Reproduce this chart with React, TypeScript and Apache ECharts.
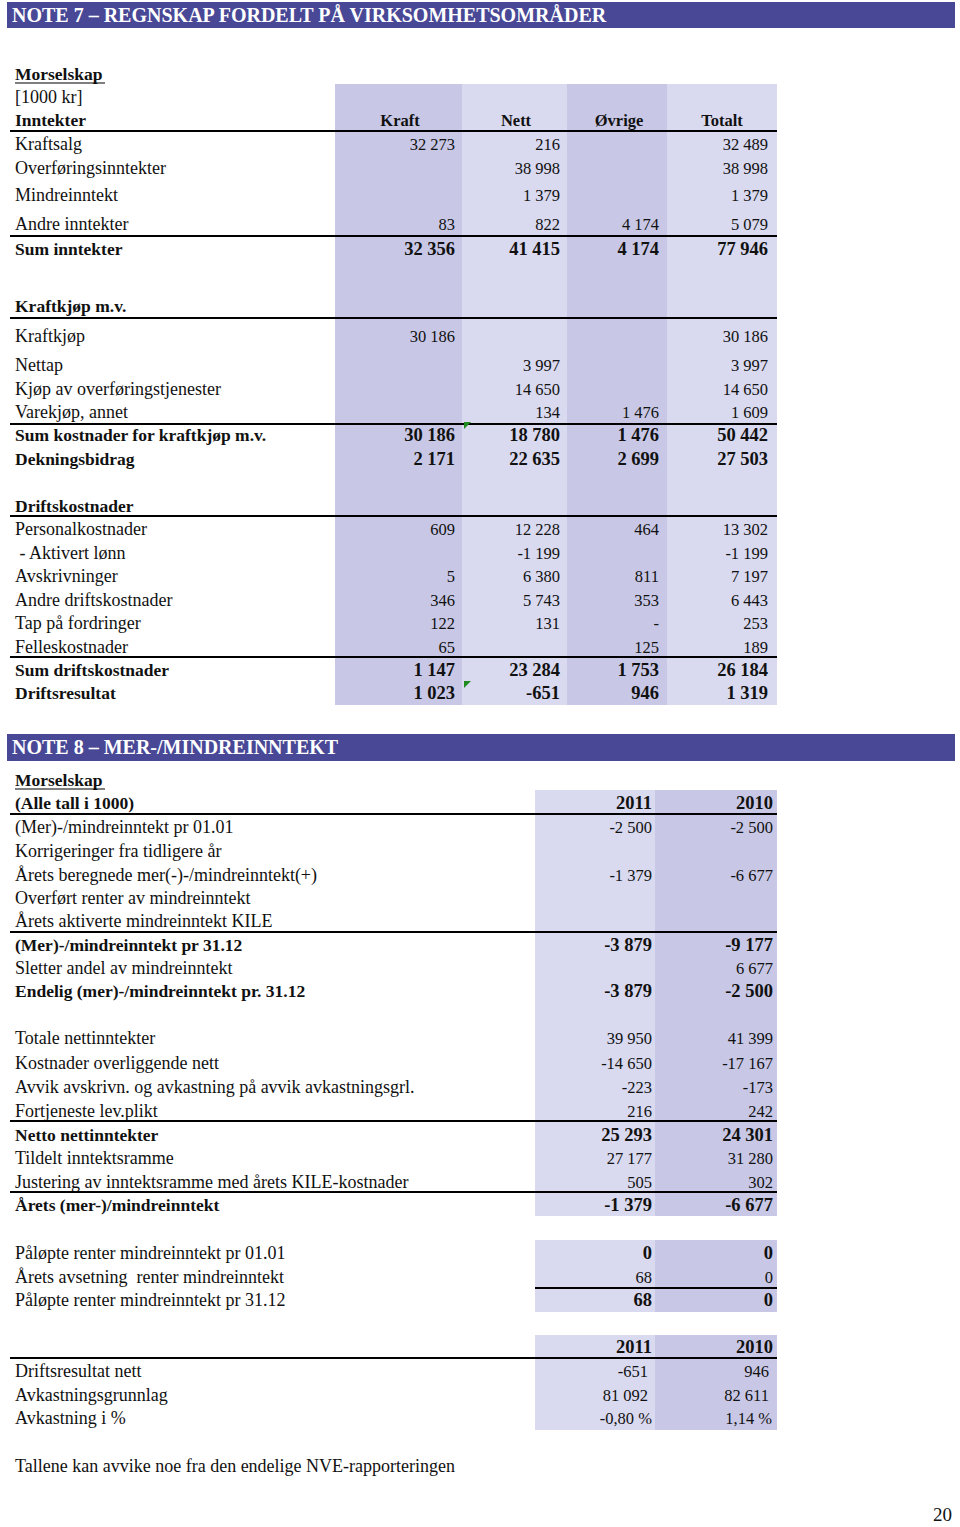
import React, { useEffect, useRef } from "react";
import * as echarts from "echarts";

const FONT = "'Liberation Serif', 'Times New Roman', Times, serif";

// ---------------- NOTE 7 data ----------------
const n7Title = "NOTE 7 – REGNSKAP FORDELT PÅ VIRKSOMHETSOMRÅDER";
const n7Company = "Morselskap";
const n7Unit = "[1000 kr]";
const n7Heading = "Inntekter";
const n7Columns = ["Kraft", "Nett", "Øvrige", "Totalt"];
const n7Labels = [
  "Kraftsalg",
  "Overføringsinntekter",
  "Mindreinntekt",
  "Andre inntekter",
  "Sum inntekter",
  "Kraftkjøp m.v.",
  "Kraftkjøp",
  "Nettap",
  "Kjøp av overføringstjenester",
  "Varekjøp, annet",
  "Sum kostnader for kraftkjøp m.v.",
  "Dekningsbidrag",
  "Driftskostnader",
  "Personalkostnader",
  " - Aktivert lønn",
  "Avskrivninger",
  "Andre driftskostnader",
  "Tap på fordringer",
  "Felleskostnader",
  "Sum driftskostnader",
  "Driftsresultat",
];
const n7Kraft = [32273, null, null, 83, 32356, null, 30186, null, null, null, 30186, 2171, null, 609, null, 5, 346, 122, 65, 1147, 1023];
const n7Nett = [216, 38998, 1379, 822, 41415, null, null, 3997, 14650, 134, 18780, 22635, null, 12228, -1199, 6380, 5743, 131, null, 23284, -651];
const n7Ovrige = [null, null, null, 4174, 4174, null, null, null, null, 1476, 1476, 2699, null, 464, null, 811, 353, 0, 125, 1753, 946];
const n7Totalt = [32489, 38998, 1379, 5079, 77946, null, 30186, 3997, 14650, 1609, 50442, 27503, null, 13302, -1199, 7197, 6443, 253, 189, 26184, 1319];

// ---------------- NOTE 8 data ----------------
const n8Title = "NOTE 8 – MER-/MINDREINNTEKT";
const n8Company = "Morselskap";
const n8Unit = "(Alle tall i 1000)";
const n8Years = ["2011", "2010"];
const n8aLabels = [
  "(Mer)-/mindreinntekt pr 01.01",
  "Korrigeringer fra tidligere år",
  "Årets beregnede mer(-)-/mindreinntekt(+)",
  "Overført renter av mindreinntekt",
  "Årets aktiverte mindreinntekt KILE",
  "(Mer)-/mindreinntekt pr 31.12",
  "Sletter andel av mindreinntekt",
  "Endelig (mer)-/mindreinntekt pr. 31.12",
];
const n8a2011 = [-2500, null, -1379, null, null, -3879, null, -3879];
const n8a2010 = [-2500, null, -6677, null, null, -9177, 6677, -2500];

const n8bLabels = [
  "Totale nettinntekter",
  "Kostnader overliggende nett",
  "Avvik avskrivn. og avkastning på avvik avkastningsgrl.",
  "Fortjeneste lev.plikt",
  "Netto nettinntekter",
  "Tildelt inntektsramme",
  "Justering av inntektsramme med årets KILE-kostnader",
  "Årets (mer-)/mindreinntekt",
];
const n8b2011 = [39950, -14650, -223, 216, 25293, 27177, 505, -1379];
const n8b2010 = [41399, -17167, -173, 242, 24301, 31280, 302, -6677];

const n8cLabels = [
  "Påløpte renter mindreinntekt pr 01.01",
  "Årets avsetning  renter mindreinntekt",
  "Påløpte renter mindreinntekt pr 31.12",
];
const n8c2011 = [0, 68, 68];
const n8c2010 = [0, 0, 0];

const n8dLabels = ["Driftsresultat nett", "Avkastningsgrunnlag", "Avkastning i %"];
const n8d2011 = [-651, 81092];
const n8d2010 = [946, 82611];
const n8dPct2011 = -0.8;
const n8dPct2010 = 1.14;

const footnote = "Tallene kan avvike noe fra den endelige NVE-rapporteringen";
const pageNumber = "20";

// ---------------- layout (positions / styles) ----------------
const n7RowY = [144, 168, 195, 224, 249, 306, 336, 365, 389, 412, 435, 459, 506, 529, 553, 576, 600, 623, 647, 670, 693];
const n7RowBold = [0, 0, 0, 0, 1, 1, 0, 0, 0, 0, 1, 1, 1, 0, 0, 0, 0, 0, 0, 1, 1];
const n7ColX = [335, 462, 567, 667, 777];
const n7ColShade = ["#c8c8e6", "#d9d9ef", "#c8c8e6", "#d9d9ef"];
const n7NumRight = [455, 560, 659, 768];
const n7HeadCenter = [400, 516, 619, 722];
const n7Lines = [131, 236, 318, 424, 516, 657];

const n8aY = [827, 851, 875, 898, 921, 945, 968, 991];
const n8aBold = [0, 0, 0, 0, 0, 1, 0, 1];
const n8bY = [1038, 1063, 1087, 1111, 1135, 1158, 1182, 1205];
const n8bBold = [0, 0, 0, 0, 1, 0, 0, 1];
const n8cY = [1253, 1277, 1300];
const n8cValBold = [1, 0, 1];
const n8dY = [1371, 1395, 1418];
const n8ColX = [535, 655, 777];
const n8ColShade = ["#d9d9ef", "#c8c8e6"];
const n8NumRight = [652, 773];
const n8Bands = [[790, 1216], [1240, 1312], [1335, 1430]];

const BAR = "#484896";
const INK = "#111111";

function fmt(v: number | null, dashZero: boolean): string {
  if (v === null || v === undefined) return "";
  if (v === 0 && dashZero) return "-";
  const s = Math.abs(v).toString().replace(/\B(?=(\d{3})+(?!\d))/g, " ");
  return (v < 0 ? "-" : "") + s;
}
function pct(v: number): string {
  return v.toFixed(2).replace(".", ",") + " %";
}

function txt(x: number, y: number, text: string, opts: any = {}) {
  const align = opts.align || "left";
  return {
    type: "text",
    x,
    y,
    silent: true,
    style: {
      text,
      fill: opts.fill || INK,
      fontFamily: FONT,
      fontSize: opts.size || 18,
      fontWeight: opts.bold ? "bold" : "normal",
      align,
      textAlign: align,
      verticalAlign: "middle",
      textVerticalAlign: "middle",
    },
  };
}
function rect(x: number, y: number, w: number, h: number, fill: string) {
  return { type: "rect", silent: true, shape: { x, y, width: w, height: h }, style: { fill } };
}
function hline(x1: number, x2: number, y: number, w = 2) {
  return { type: "line", silent: true, shape: { x1, y1: y, x2, y2: y }, style: { stroke: "#000", lineWidth: w } };
}

const FS_LABEL = 18;
const FS_BLABEL = 17.5;
const FS_NUM = 16.5;
const FS_BNUM = 18.5;

function buildElements() {
  const els: any[] = [];
  // ---- Note 7 ----
  els.push(rect(7, 2, 948, 26, BAR));
  els.push(txt(12, 15, n7Title, { bold: true, size: 20, fill: "#ffffff" }));
  for (let c = 0; c < 4; c++) {
    els.push(rect(n7ColX[c], 84, n7ColX[c + 1] - n7ColX[c], 621, n7ColShade[c]));
  }
  els.push(txt(15, 74, n7Company, { bold: true, size: FS_BLABEL }));
  els.push(hline(15, 105, 83, 1.2));
  els.push(txt(15, 97, n7Unit, { size: FS_LABEL }));
  els.push(txt(15, 120, n7Heading, { bold: true, size: FS_BLABEL }));
  n7Columns.forEach((c, i) => els.push(txt(n7HeadCenter[i], 120, c, { bold: true, size: 16.5, align: "center" })));
  const cols = [n7Kraft, n7Nett, n7Ovrige, n7Totalt];
  n7Labels.forEach((lab, r) => {
    const b = !!n7RowBold[r];
    const y = n7RowY[r];
    els.push(txt(15, y, lab, { bold: b, size: b ? FS_BLABEL : FS_LABEL }));
    cols.forEach((arr, c) => {
      const s = fmt(arr[r] as any, true);
      if (s) els.push(txt(n7NumRight[c], y, s, { bold: b, size: b ? FS_BNUM : FS_NUM, align: "right" }));
    });
  });
  n7Lines.forEach((y) => els.push(hline(10, 777, y)));
  els.push({ type: "polygon", silent: true, shape: { points: [[464, 422], [471, 422], [464, 429]] }, style: { fill: "#1f8a1f" } });
  els.push({ type: "polygon", silent: true, shape: { points: [[464, 681], [471, 681], [464, 688]] }, style: { fill: "#1f8a1f" } });

  // ---- Note 8 ----
  els.push(rect(7, 734, 948, 27, BAR));
  els.push(txt(12, 747, n8Title, { bold: true, size: 20, fill: "#ffffff" }));
  n8Bands.forEach(([y0, y1]) => {
    for (let c = 0; c < 2; c++) els.push(rect(n8ColX[c], y0, n8ColX[c + 1] - n8ColX[c], y1 - y0, n8ColShade[c]));
  });
  els.push(txt(15, 780, n8Company, { bold: true, size: FS_BLABEL }));
  els.push(hline(15, 105, 789, 1.2));
  els.push(txt(15, 803, n8Unit, { bold: true, size: FS_BLABEL }));
  n8Years.forEach((yr, i) => els.push(txt(n8NumRight[i], 803, yr, { bold: true, size: FS_BNUM, align: "right" })));

  const addRows = (labels: string[], ys: number[], v1: any[], v2: any[], labBold: number[] | null, valBold: number[] | null) => {
    labels.forEach((lab, r) => {
      const lb = labBold ? !!labBold[r] : false;
      const vb = valBold ? !!valBold[r] : lb;
      els.push(txt(15, ys[r], lab, { bold: lb, size: lb ? FS_BLABEL : FS_LABEL }));
      [v1, v2].forEach((arr, c) => {
        const s = fmt(arr[r] ?? null, false);
        if (s) els.push(txt(n8NumRight[c], ys[r], s, { bold: vb, size: vb ? FS_BNUM : FS_NUM, align: "right" }));
      });
    });
  };
  addRows(n8aLabels, n8aY, n8a2011, n8a2010, n8aBold, null);
  addRows(n8bLabels, n8bY, n8b2011, n8b2010, n8bBold, null);
  addRows(n8cLabels, n8cY, n8c2011, n8c2010, null, n8cValBold);

  n8Years.forEach((yr, i) => els.push(txt(n8NumRight[i], 1347, yr, { bold: true, size: FS_BNUM, align: "right" })));
  n8dLabels.forEach((lab, r) => els.push(txt(15, n8dY[r], lab, { size: FS_LABEL })));
  [n8d2011, n8d2010].forEach((arr, c) => {
    arr.forEach((v, r) => els.push(txt(n8NumRight[c] - 4, n8dY[r], fmt(v, false), { size: FS_NUM, align: "right" })));
  });
  els.push(txt(n8NumRight[0], n8dY[2], pct(n8dPct2011), { size: FS_NUM, align: "right" }));
  els.push(txt(n8NumRight[1] - 1, n8dY[2], pct(n8dPct2010), { size: FS_NUM, align: "right" }));

  [814, 932, 1121, 1192, 1358].forEach((y) => els.push(hline(10, 777, y)));
  els.push(hline(535, 777, 1288));

  els.push(txt(15, 1466, footnote, { size: FS_LABEL }));
  els.push(txt(952, 1514, pageNumber, { size: 19, align: "right" }));
  return els;
}

export default function App() {
  const ref = useRef<HTMLDivElement>(null);
  useEffect(() => {
    document.body.style.margin = "0";
    const chart = echarts.init(ref.current!, null, { renderer: "svg" });
    chart.setOption({
      animation: false,
      backgroundColor: "#ffffff",
      graphic: { elements: buildElements() },
    });
    return () => chart.dispose();
  }, []);
  return <div ref={ref} style={{ width: 960, height: 1527 }} />;
}
